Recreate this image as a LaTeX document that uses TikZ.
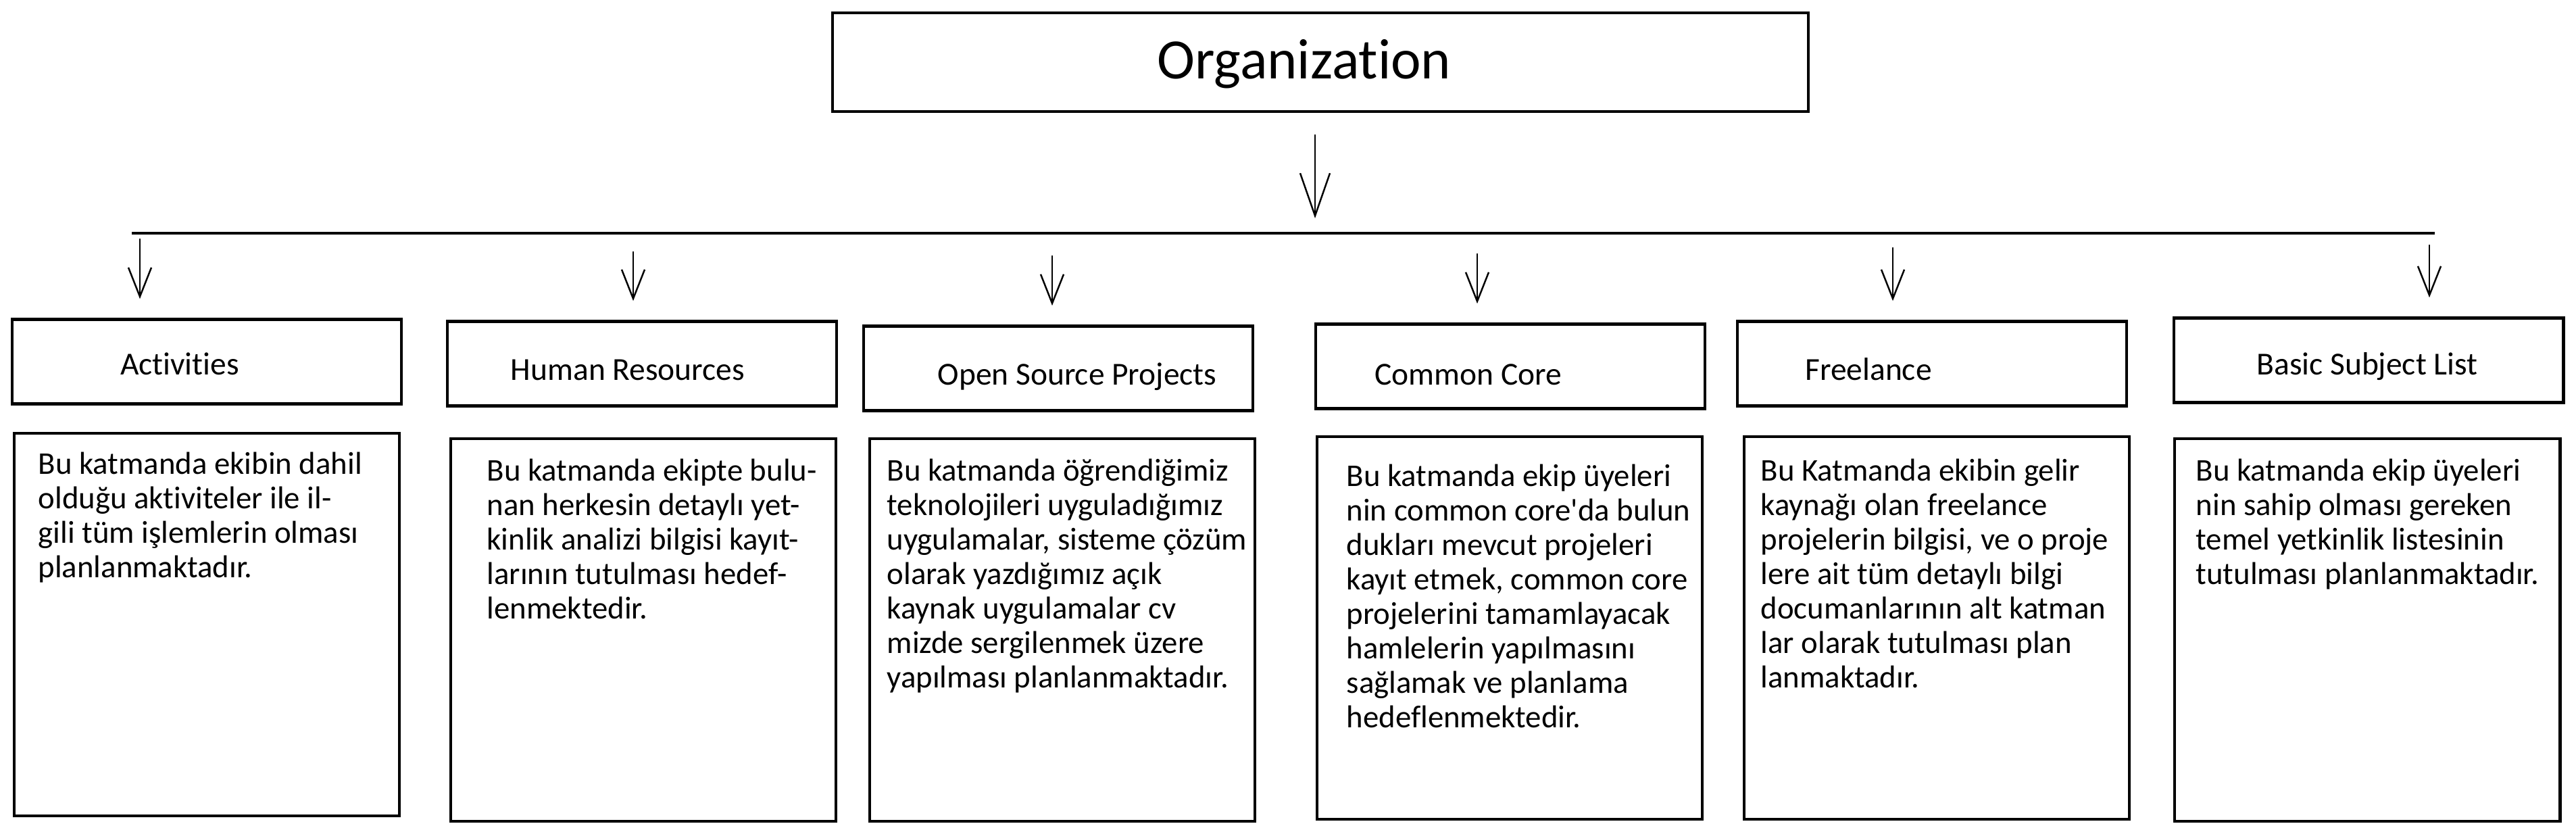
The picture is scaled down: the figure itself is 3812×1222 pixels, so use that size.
\documentclass[tikz,border=0pt]{standalone}
\usepackage{fontspec}
\setmainfont{Carlito}[Ligatures={NoCommon}]
\usetikzlibrary{arrows.meta}

\begin{document}
\begin{tikzpicture}[x=0.01cm, y=-0.01cm,
    titlebox/.style={draw, line width=1.3pt, minimum width=5.76cm, minimum height=1.25cm, inner sep=0pt},
    descbox/.style={draw, line width=1.3pt, minimum width=5.7cm, minimum height=5.66cm, inner sep=0pt},
    titletext/.style={anchor=base, inner sep=0pt, font=\fontsize{13.5}{15}\selectfont},
    desctext/.style={anchor=north west, inner sep=0pt, align=left, font=\fontsize{13.3}{14.5}\selectfont},
    arr/.style={line width=0.7pt, shorten >=0.28cm, -{Straight Barb[length=0.43cm, width=0.34cm]}}]
    \useasboundingbox (0,0) rectangle (3812,1222);

    % top
    \node[draw, line width=1.3pt, minimum width=14.43cm, minimum height=1.46cm, inner sep=0pt] (org) at (1954,92) {};
    \node[anchor=base, inner sep=0pt, font=\fontsize{24}{28}\selectfont] (orgtext) at (1930,117) {Organization};
    \coordinate (barL) at (195,345);
    \coordinate (barR) at (3603,345);
    \coordinate (hub) at (1946,345);
    \draw[line width=1.4pt] (barL) -- (barR);
    \draw[line width=0.7pt, shorten <=0.32cm, shorten >=0.22cm, -{Straight Barb[length=0.63cm, width=0.44cm]}] (org.south -| hub) -- (hub);

    % title boxes
    \node[titlebox] (act) at (306,535) {};
    \node[titlebox] (hr) at (950,538) {};
    \node[titlebox] (osp) at (1566,545) {};
    \node[titlebox] (cc) at (2235,542) {};
    \node[titlebox] (fl) at (2859,538) {};
    \node[titlebox] (bsl) at (3505,533) {};
    \node[titletext] (actL) at (266,555) {Activities};
    \node[titletext] (hrL) at (929,563) {Human Resources};
    \node[titletext] (ospL) at (1594,570) {Open Source Projects};
    \node[titletext] (ccL) at (2173,570) {Common Core};
    \node[titletext] (flL) at (2765,563) {Freelance};
    \node[titletext] (bslL) at (3503,555) {Basic Subject List};

    % arrows from the bar
    \coordinate (s1) at (207,353);
    \coordinate (s2) at (937,372);
    \coordinate (s3) at (1557,378);
    \coordinate (s4) at (2186,375);
    \coordinate (s5) at (2801,366);
    \coordinate (s6) at (3595,362);
    \draw[arr] (s1) -- (s1 |- act.north);
    \draw[arr] (s2) -- (s2 |- hr.north);
    \draw[arr] (s3) -- (s3 |- osp.north);
    \draw[arr] (s4) -- (s4 |- cc.north);
    \draw[arr] (s5) -- (s5 |- fl.north);
    \draw[arr] (s6) -- (s6 |- bsl.north);

    % descriptions
    \node[descbox] (actD) at (306,924) {};
    \node[descbox] (hrD) at (952,932) {};
    \node[descbox] (ospD) at (1572,932) {};
    \node[descbox] (ccD) at (2234,929) {};
    \node[descbox] (flD) at (2866,929) {};
    \node[descbox] (bslD) at (3503,932) {};
    \node[desctext] (actT) at (56,668) {Bu katmanda ekibin dahil\\olduğu aktiviteler ile il-\\gili tüm işlemlerin olması\\planlanmaktadır.};
    \node[desctext] (hrT) at (720,678) {Bu katmanda ekipte bulu-\\nan herkesin detaylı yet-\\kinlik analizi bilgisi kayıt-\\larının tutulması hedef-\\lenmektedir.};
    \node[desctext] (ospT) at (1312,678) {Bu katmanda öğrendiğimiz\\teknolojileri uyguladığımız\\uygulamalar, sisteme çözüm\\olarak yazdığımız açık\\kaynak uygulamalar cv\\mizde sergilenmek üzere\\yapılması planlanmaktadır.};
    \node[desctext] (ccT) at (1992,686) {Bu katmanda ekip üyeleri\\nin common core\textquotesingle da bulun\\dukları mevcut projeleri\\kayıt etmek, common core\\projelerini tamamlayacak\\hamlelerin yapılmasını\\sağlamak ve planlama\\hedeflenmektedir.};
    \node[desctext] (flT) at (2605,678) {Bu Katmanda ekibin gelir\\kaynağı olan freelance\\projelerin bilgisi, ve o proje\\lere ait tüm detaylı bilgi\\documanlarının alt katman\\lar olarak tutulması plan\\lanmaktadır.};
    \node[desctext] (bslT) at (3249,678) {Bu katmanda ekip üyeleri\\nin sahip olması gereken\\temel yetkinlik listesinin\\tutulması planlanmaktadır.};
\end{tikzpicture}
\end{document}
